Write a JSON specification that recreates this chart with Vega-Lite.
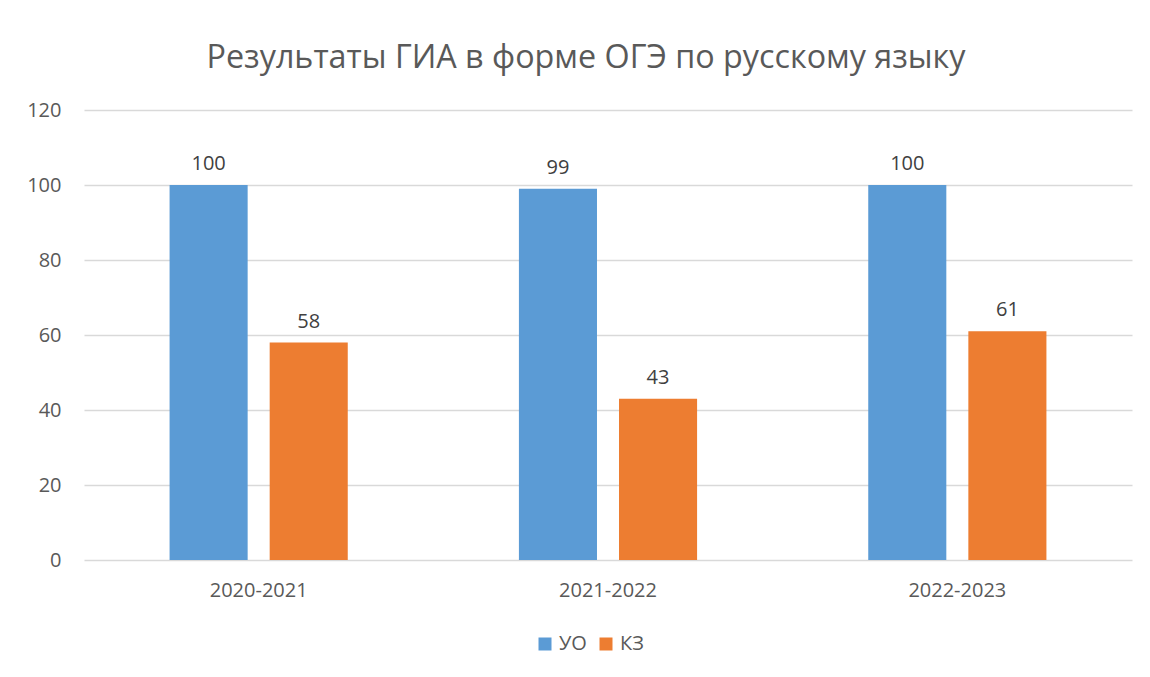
{
  "$schema": "https://vega.github.io/schema/vega-lite/v6.json",
  "width": 1048,
  "height": 450,
  "autosize": "none",
  "padding": {"left": 84, "top": 110, "right": 18, "bottom": 117},
  "background": "white",
  "title": {
    "text": "Результаты ГИА в форме ОГЭ по русскому языку",
    "anchor": "middle",
    "font": "Open Sans",
    "fontSize": 32.3,
    "fontWeight": "normal",
    "color": "#595959",
    "offset": 26,
    "dx": -22
  },
  "data": {
    "values": [
      {"year": "2020-2021", "series": "УО", "value": 100},
      {"year": "2020-2021", "series": "КЗ", "value": 58},
      {"year": "2021-2022", "series": "УО", "value": 99},
      {"year": "2021-2022", "series": "КЗ", "value": 43},
      {"year": "2022-2023", "series": "УО", "value": 100},
      {"year": "2022-2023", "series": "КЗ", "value": 61}
    ]
  },
  "encoding": {
    "x": {
      "field": "year",
      "type": "nominal",
      "scale": {"paddingInner": 0, "paddingOuter": 0},
      "axis": {
        "title": null,
        "labelAngle": 0,
        "ticks": false,
        "domain": false,
        "labelFont": "Open Sans",
        "labelFontSize": 20,
        "labelColor": "#595959",
        "labelPadding": 20
      }
    },
    "xOffset": {
      "field": "series",
      "type": "nominal",
      "sort": ["УО", "КЗ"],
      "scale": {"paddingInner": 0.22, "paddingOuter": 0.855}
    },
    "y": {
      "field": "value",
      "type": "quantitative",
      "scale": {"domain": [0, 120]},
      "axis": {
        "title": null,
        "values": [0, 20, 40, 60, 80, 100, 120],
        "ticks": false,
        "domain": false,
        "grid": true,
        "gridColor": "#d9d9d9",
        "gridWidth": 1.3,
        "labelFont": "Open Sans",
        "labelFontSize": 20,
        "labelColor": "#595959",
        "labelPadding": 23
      }
    }
  },
  "layer": [
    {
      "mark": {"type": "bar"},
      "encoding": {
        "color": {
          "field": "series",
          "type": "nominal",
          "sort": ["УО", "КЗ"],
          "scale": {"domain": ["УО", "КЗ"], "range": ["#5B9BD5", "#ED7D31"]},
          "legend": {
            "title": null,
            "orient": "none",
            "legendX": 451,
            "legendY": 524,
            "direction": "horizontal",
            "symbolType": "square",
            "symbolSize": 169,
            "symbolStrokeWidth": 0,
            "labelFont": "Open Sans",
            "labelFontSize": 20,
            "labelColor": "#595959",
            "columnPadding": 9,
            "labelOffset": 4
          }
        }
      }
    },
    {
      "mark": {
        "type": "text",
        "baseline": "bottom",
        "dy": -11,
        "font": "Open Sans",
        "fontSize": 20,
        "color": "#404040"
      },
      "encoding": {"text": {"field": "value", "type": "quantitative"}}
    }
  ],
  "config": {"view": {"stroke": null}}
}
